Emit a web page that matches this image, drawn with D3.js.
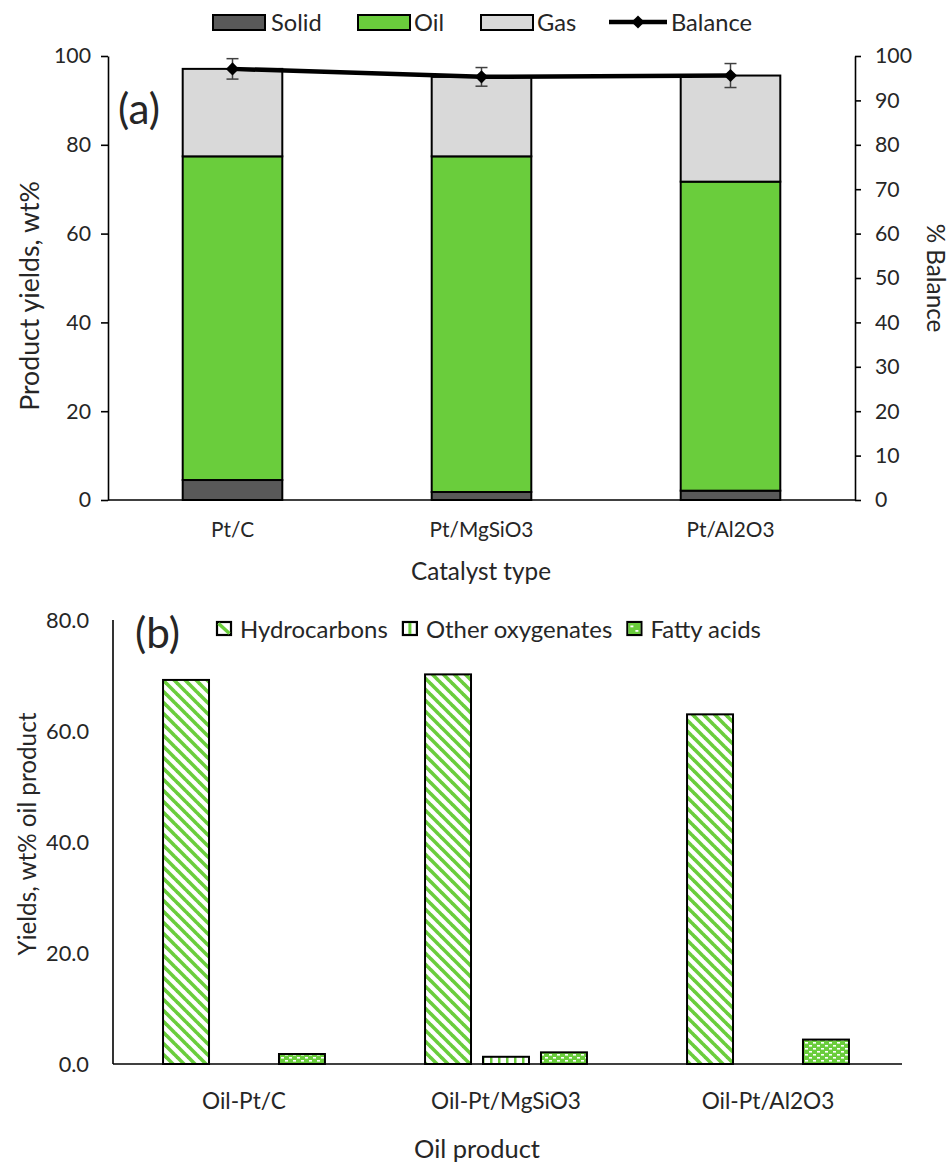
<!DOCTYPE html>
<html><head><meta charset="utf-8">
<script src="https://cdn.jsdelivr.net/npm/d3@7"></script>
<style>
body{margin:0;background:#fff}
svg{display:block}
text{font-family:Lato,"Open Sans",sans-serif;fill:#262626}
</style>
</head><body>
<svg id="c" width="950" height="1164"></svg>
<script>
// ---------- data (a) ----------
const catalysts = ["Pt/C", "Pt/MgSiO3", "Pt/Al2O3"];
const solid = [4.5, 1.8, 2.1];
const oil = [72.9, 75.6, 69.6];
const gas = [19.7, 17.9, 23.9];
const balance = [97.1, 95.3, 95.6];
const balanceErr = [2.3, 2.1, 2.7];
const yTicksA = [0, 20, 40, 60, 80, 100];
const yTicksBal = [0, 10, 20, 30, 40, 50, 60, 70, 80, 90, 100];
// ---------- data (b) ----------
const oilProducts = ["Oil-Pt/C", "Oil-Pt/MgSiO3", "Oil-Pt/Al2O3"];
const fractions = ["Hydrocarbons", "Other oxygenates", "Fatty acids"];
const hydrocarbons = [69.2, 70.2, 63.0];
const otherOxygenates = [0, 1.3, 0];
const fattyAcids = [1.8, 2.1, 4.4];
const yTicksB = [0, 20, 40, 60, 80];

const svg = d3.select("#c");
const GREEN = "#6ACD3C";
const TXT = "#262626";

function measure(text) {
  const t = svg.append("text").style("font-size", "20px").text(text);
  const w = t.node().getComputedTextLength();
  t.remove();
  return w;
}
function fitSize(text, width) { return 20 * width / measure(text); }

// ---------- patterns ----------
const defs = svg.append("defs");
const pH = defs.append("pattern").attr("id", "pHydro").attr("patternUnits", "userSpaceOnUse")
  .attr("width", 11).attr("height", 11);
pH.append("rect").attr("width", 11).attr("height", 11).attr("fill", "#fff");
[-11, 0, 11].forEach(o => pH.append("line").attr("x1", o - 1).attr("y1", -1).attr("x2", o + 12).attr("y2", 12)
  .attr("stroke", GREEN).attr("stroke-width", 3.6));
const pO = defs.append("pattern").attr("id", "pOther").attr("patternUnits", "userSpaceOnUse")
  .attr("width", 8).attr("height", 8);
pO.append("rect").attr("width", 8).attr("height", 8).attr("fill", "#fff");
pO.append("rect").attr("x", 2).attr("width", 2.5).attr("height", 8).attr("fill", GREEN);
const pF = defs.append("pattern").attr("id", "pFatty").attr("patternUnits", "userSpaceOnUse")
  .attr("width", 8).attr("height", 6);
pF.append("rect").attr("width", 8).attr("height", 6).attr("fill", GREEN);
pF.append("rect").attr("x", 1).attr("y", 1).attr("width", 3).attr("height", 1.6).attr("fill", "#fff");
pF.append("rect").attr("x", 5).attr("y", 4).attr("width", 3).attr("height", 1.6).attr("fill", "#fff");
pF.append("rect").attr("x", -3).attr("y", 4).attr("width", 3).attr("height", 1.6).attr("fill", "#fff");

// font sizes
const titleFs = fitSize("Catalyst type", 140);
const tickFsA = fitSize("100", 37);
const xtFsB = fitSize("Oil-Pt/MgSiO3", 150);
const xtFsA = xtFsB * 0.92;
const legFsA = fitSize("Balance", 81);
const ytFsB = fitSize("80.0", 43);

// =================== CHART (a) ===================
const A = {left: 108, right: 855, top: 56, bottom: 500};
const xA = d3.scaleBand().domain(catalysts).range([A.left, A.right]).paddingInner(0.6).paddingOuter(0.3);
const yA = d3.scaleLinear().domain([0, 100]).range([A.bottom, A.top]);
const yBal = d3.scaleLinear().domain([0, 100]).range([A.bottom, A.top]);

const stackKeys = ["Solid", "Oil", "Gas"];
const stackColors = {Solid: "#595959", Oil: GREEN, Gas: "#D9D9D9"};
const rows = catalysts.map((c, i) => ({cat: c, Solid: solid[i], Oil: oil[i], Gas: gas[i]}));
const stacked = d3.stack().keys(stackKeys)(rows);
const gA = svg.append("g");
stacked.forEach(layer => {
  gA.selectAll(null).data(layer).join("rect")
    .attr("x", d => xA(d.data.cat))
    .attr("width", xA.bandwidth())
    .attr("y", d => yA(d[1]))
    .attr("height", d => yA(d[0]) - yA(d[1]))
    .attr("fill", stackColors[layer.key])
    .attr("stroke", "#000").attr("stroke-width", 2);
});

// axes
const axL = d3.axisLeft(yA).tickValues(yTicksA).tickSize(7).tickSizeOuter(0).tickPadding(10);
const gL = svg.append("g").attr("transform", `translate(${A.left},0)`).call(axL);
const axR = d3.axisRight(yBal).tickValues(yTicksBal).tickSize(6).tickSizeOuter(0).tickPadding(14);
const gR = svg.append("g").attr("transform", `translate(${A.right},0)`).call(axR);
[gL, gR].forEach(g => {
  g.select(".domain").attr("stroke", "#000").attr("stroke-width", 1.6);
  g.selectAll(".tick line").attr("stroke", "#000").attr("stroke-width", 1.6);
  g.selectAll(".tick text").attr("fill", TXT).style("font-size", tickFsA + "px").style("font-family", "Lato");
});
svg.append("line").attr("x1", A.left).attr("x2", A.right).attr("y1", A.bottom).attr("y2", A.bottom)
  .attr("stroke", "#000").attr("stroke-width", 1.6);

svg.append("g").selectAll(null).data(catalysts).join("text")
  .attr("x", d => xA(d) + xA.bandwidth() / 2).attr("y", 528)
  .attr("text-anchor", "middle").attr("dominant-baseline", "central")
  .style("font-size", xtFsA + "px").text(d => d);

svg.append("text").attr("x", 481).attr("y", 570).attr("text-anchor", "middle").attr("dominant-baseline", "central")
  .style("font-size", titleFs + "px").text("Catalyst type");
svg.append("text").attr("transform", "translate(29,296) rotate(-90)").attr("text-anchor", "middle")
  .attr("dominant-baseline", "central").style("font-size", (titleFs * 1.1) + "px")
  .text("Product yields, wt%");
svg.append("text").attr("transform", "translate(936,278) rotate(90)").attr("text-anchor", "middle")
  .attr("dominant-baseline", "central").style("font-size", titleFs + "px")
  .text("% Balance");
svg.append("text").attr("x", 118).attr("y", 107).attr("dominant-baseline", "central")
  .style("font-size", fitSize("(a)", 42) + "px").text("(a)");

// balance line
const balPts = catalysts.map((c, i) => ({x: xA(c) + xA.bandwidth() / 2, v: balance[i], e: balanceErr[i]}));
const gBal = svg.append("g");
gBal.append("path").datum(balPts)
  .attr("d", d3.line().x(d => d.x).y(d => yBal(d.v)))
  .attr("fill", "none").attr("stroke", "#000").attr("stroke-width", 4.5);
balPts.forEach(p => {
  const y0 = yBal(p.v - p.e), y1 = yBal(p.v + p.e);
  gBal.append("line").attr("x1", p.x).attr("x2", p.x).attr("y1", y0).attr("y2", y1).attr("stroke", "#404040").attr("stroke-width", 1.5);
  [y0, y1].forEach(y => gBal.append("line").attr("x1", p.x - 6).attr("x2", p.x + 6).attr("y1", y).attr("y2", y)
    .attr("stroke", "#404040").attr("stroke-width", 1.5));
});
gBal.selectAll(null).data(balPts).join("path")
  .attr("d", d3.symbol(d3.symbolDiamond2, 110))
  .attr("transform", d => `translate(${d.x},${yBal(d.v)})`)
  .attr("fill", "#000");

// legend (a)
const legA = [
  {name: "Solid", x: 213, tx: 271},
  {name: "Oil", x: 358, tx: 414},
  {name: "Gas", x: 481, tx: 537}
];
legA.forEach(l => {
  svg.append("rect").attr("x", l.x).attr("y", 15).attr("width", 52).attr("height", 15)
    .attr("fill", stackColors[l.name]).attr("stroke", "#000").attr("stroke-width", 2);
  svg.append("text").attr("x", l.tx).attr("y", 22).attr("dominant-baseline", "central")
    .style("font-size", legFsA + "px").text(l.name);
});
svg.append("line").attr("x1", 609).attr("x2", 667).attr("y1", 22).attr("y2", 22).attr("stroke", "#000").attr("stroke-width", 4.5);
svg.append("path").attr("d", d3.symbol(d3.symbolDiamond2, 110)).attr("transform", "translate(638,22)").attr("fill", "#000");
svg.append("text").attr("x", 671).attr("y", 22).attr("dominant-baseline", "central")
  .style("font-size", legFsA + "px").text("Balance");

// =================== CHART (b) ===================
const B = {left: 113, right: 899, top: 620, bottom: 1064};
const xB = d3.scaleBand().domain(oilProducts).range([B.left, B.right]).paddingInner(0.382).paddingOuter(0.191);
const xSub = d3.scaleBand().domain(fractions).range([0, xB.bandwidth()]).paddingInner(0.207).paddingOuter(0);
const yB = d3.scaleLinear().domain([0, 80]).range([B.bottom, B.top]);
const fills = {"Hydrocarbons": "url(#pHydro)", "Other oxygenates": "url(#pOther)", "Fatty acids": "url(#pFatty)"};
const seriesB = {"Hydrocarbons": hydrocarbons, "Other oxygenates": otherOxygenates, "Fatty acids": fattyAcids};
const barsB = [];
oilProducts.forEach((p, i) => fractions.forEach(f => {
  if (seriesB[f][i] > 0) barsB.push({p, f, v: seriesB[f][i]});
}));
svg.append("g").selectAll(null).data(barsB).join("rect")
  .attr("x", d => xB(d.p) + xSub(d.f))
  .attr("width", xSub.bandwidth())
  .attr("y", d => yB(d.v))
  .attr("height", d => yB(0) - yB(d.v))
  .attr("fill", d => fills[d.f])
  .attr("stroke", "#000").attr("stroke-width", 2);

svg.append("line").attr("x1", B.left).attr("x2", 902).attr("y1", B.bottom).attr("y2", B.bottom)
  .attr("stroke", "#000").attr("stroke-width", 1.6);
svg.append("line").attr("x1", B.left).attr("x2", B.left).attr("y1", B.top).attr("y2", B.bottom)
  .attr("stroke", "#000").attr("stroke-width", 1.6);

svg.append("g").selectAll(null).data(yTicksB).join("text")
  .attr("x", 89).attr("y", d => yB(d)).attr("text-anchor", "end").attr("dominant-baseline", "central")
  .style("font-size", ytFsB + "px").text(d => d3.format(".1f")(d));

svg.append("g").selectAll(null).data(oilProducts).join("text")
  .attr("x", d => xB(d) + xB.bandwidth() / 2).attr("y", 1100)
  .attr("text-anchor", "middle").attr("dominant-baseline", "central")
  .style("font-size", xtFsB + "px").text(d => d);
svg.append("text").attr("x", 477).attr("y", 1148).attr("text-anchor", "middle").attr("dominant-baseline", "central")
  .style("font-size", (titleFs * 1.05) + "px").text("Oil product");
svg.append("text").attr("transform", "translate(26,834) rotate(-90)").attr("text-anchor", "middle")
  .attr("dominant-baseline", "central").style("font-size", titleFs + "px")
  .text("Yields, wt% oil product");
svg.append("text").attr("x", 135).attr("y", 631).attr("dominant-baseline", "central")
  .style("font-size", fitSize("(b)", 45) + "px").text("(b)");

// legend (b) — flowing layout
const legWidths = fractions.map(measure);
const legFsB = 20 * 445 / d3.sum(legWidths);
let lx = 216;
fractions.forEach((name, i) => {
  const g = svg.append("g");
  const sx = lx;
  g.append("rect").attr("x", sx + 1).attr("y", 622).attr("width", 14).attr("height", 13).attr("fill", "#fff")
    .attr("stroke", "#000").attr("stroke-width", 2.2);
  if (name === "Hydrocarbons") {
    g.append("line").attr("x1", sx + 2.5).attr("y1", 623.5).attr("x2", sx + 13.5).attr("y2", 633.5)
      .attr("stroke", GREEN).attr("stroke-width", 3.5);
  } else if (name === "Other oxygenates") {
    g.append("rect").attr("x", sx + 6.5).attr("y", 623).attr("width", 3).attr("height", 11).attr("fill", GREEN);
  } else {
    g.append("rect").attr("x", sx + 2).attr("y", 623).attr("width", 12).attr("height", 11).attr("fill", GREEN);
    g.append("rect").attr("x", sx + 4).attr("y", 625.5).attr("width", 3).attr("height", 1.8).attr("fill", "#fff");
    g.append("rect").attr("x", sx + 9).attr("y", 630).attr("width", 3).attr("height", 1.8).attr("fill", "#fff");
  }
  const tx = sx + 24;
  svg.append("text").attr("x", tx).attr("y", 628).attr("dominant-baseline", "central")
    .style("font-size", legFsB + "px").text(name);
  lx = tx + legWidths[i] * legFsB / 20 + 14;
});
</script>
</body></html>
